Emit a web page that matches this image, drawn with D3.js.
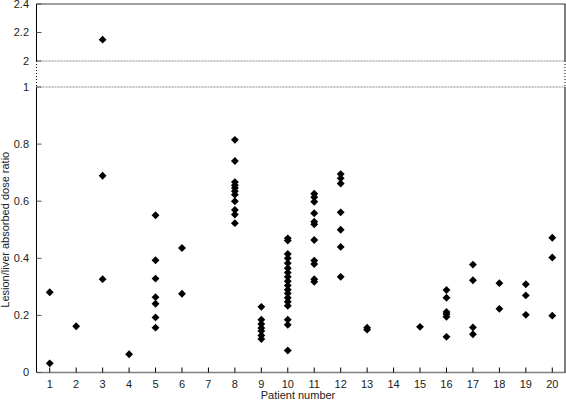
<!DOCTYPE html>
<html>
<head>
<meta charset="utf-8">
<script src="https://cdn.jsdelivr.net/npm/d3@7"></script>
<style>
  body { margin: 0; background: #fff; }
  text { font-family: "Liberation Sans", Arial, sans-serif; font-size: 11px; fill: #222; }
</style>
</head>
<body>
<div id="plot"></div>
<script>
// patients on the x axis
var patients = d3.range(1, 21);

// lesion/liver absorbed dose ratio, one array per patient
var p1 = [0.281, 0.032],
    p2 = [0.162],
    p3 = [2.15, 0.689, 0.327],
    p4 = [0.064],
    p5 = [0.551, 0.393, 0.329, 0.264, 0.241, 0.193, 0.157],
    p6 = [0.436, 0.276],
    p8 = [0.815, 0.741, 0.667, 0.656, 0.646, 0.635, 0.623, 0.6, 0.569, 0.553, 0.523],
    p9 = [0.23, 0.185, 0.17, 0.156, 0.145, 0.13, 0.117],
    p10 = [0.47, 0.462, 0.415, 0.4, 0.383, 0.365, 0.35, 0.335, 0.32, 0.305, 0.29,
           0.277, 0.262, 0.248, 0.234, 0.185, 0.167, 0.077],
    p11 = [0.626, 0.614, 0.598, 0.558, 0.528, 0.519, 0.464, 0.392, 0.38, 0.327, 0.318],
    p12 = [0.695, 0.68, 0.662, 0.561, 0.5, 0.44, 0.335],
    p13 = [0.157, 0.15],
    p15 = [0.16],
    p16 = [0.289, 0.262, 0.212, 0.204, 0.195, 0.125],
    p17 = [0.378, 0.323, 0.158, 0.134],
    p18 = [0.313, 0.223],
    p19 = [0.309, 0.27, 0.202],
    p20 = [0.472, 0.403, 0.199];

var byPatient = {1: p1, 2: p2, 3: p3, 4: p4, 5: p5, 6: p6, 8: p8, 9: p9, 10: p10,
                 11: p11, 12: p12, 13: p13, 15: p15, 16: p16, 17: p17, 18: p18,
                 19: p19, 20: p20};

// tick labels of the broken y axis
var lowTicks = [0, 0.2, 0.4, 0.6, 0.8, 1],
    highTicks = [2, 2.2, 2.4];

var width = 566, height = 401;
var left = 36.5, right = 565.5;

var svg = d3.select("#plot").append("svg")
    .attr("width", width)
    .attr("height", height);

var x = d3.scaleLinear().domain([0.5, 20.5]).range([left, right]);
var yLow = d3.scaleLinear().domain([0, 1]).range([372.5, 87]);
var yHigh = d3.scaleLinear().domain([2, 2.4]).range([61, 4]);
function y(v) { return v >= 2 ? yHigh(v) : yLow(v); }

var points = [];
patients.forEach(function(p) {
  (byPatient[p] || []).forEach(function(v) { points.push({p: p, v: v}); });
});

// dotted break lines at 1 and 2
svg.selectAll("line.brk")
    .data([yLow(1), yHigh(2)])
  .enter().append("line")
    .attr("x1", left).attr("x2", right)
    .attr("y1", function(d) { return d; }).attr("y2", function(d) { return d; })
    .style("stroke", "#888")
    .style("stroke-width", 1.2)
    .style("stroke-dasharray", "2,1");

// frame: gray top and bottom, black sides broken between 1 and 2
svg.append("line")
    .attr("x1", left).attr("x2", right)
    .attr("y1", yHigh(2.4)).attr("y2", yHigh(2.4))
    .style("stroke", "#808080").style("stroke-width", 1.5);
svg.append("line")
    .attr("x1", left).attr("x2", right)
    .attr("y1", yLow(0)).attr("y2", yLow(0))
    .style("stroke", "#808080").style("stroke-width", 1.5);
[left, right - 0.5].forEach(function(sx) {
  svg.append("line")
      .attr("x1", sx).attr("x2", sx)
      .attr("y1", yHigh(2.4)).attr("y2", yHigh(2))
      .style("stroke", "#000").style("stroke-width", 1);
  svg.append("line")
      .attr("x1", sx).attr("x2", sx)
      .attr("y1", yLow(1)).attr("y2", yLow(0))
      .style("stroke", "#000").style("stroke-width", 1);
  svg.append("line")
      .attr("x1", sx).attr("x2", sx)
      .attr("y1", yHigh(2)).attr("y2", yLow(1))
      .style("stroke", "#000").style("stroke-width", 1)
      .style("stroke-dasharray", "1,2");
});

// y ticks and labels
var yt = svg.selectAll("g.ytick")
    .data(lowTicks.map(function(v) { return {v: v, py: yLow(v)}; })
      .concat(highTicks.map(function(v) { return {v: v, py: yHigh(v)}; })))
  .enter().append("g")
    .attr("transform", function(d) { return "translate(0," + d.py + ")"; });
yt.append("line")
    .attr("x1", left).attr("x2", left + 5)
    .style("stroke", "#555").style("stroke-width", 1);
yt.append("text")
    .attr("x", 29)
    .attr("dy", "0.35em")
    .attr("text-anchor", "end")
    .text(function(d) { return d3.format("~g")(d.v); });

// x ticks and labels
var xt = svg.selectAll("g.xtick")
    .data(patients)
  .enter().append("g")
    .attr("transform", function(d) { return "translate(" + x(d) + ",0)"; });
xt.append("line")
    .attr("y1", yLow(0)).attr("y2", yLow(0) - 5)
    .style("stroke", "#000").style("stroke-width", 1);
xt.append("text")
    .attr("y", 388)
    .attr("text-anchor", "middle")
    .text(function(d) { return d; });

svg.append("text")
    .attr("x", 298).attr("y", 399)
    .attr("text-anchor", "middle")
    .text("Patient number");

svg.append("text")
    .attr("transform", "translate(9," + yLow(0.5) + ") rotate(-90)")
    .attr("text-anchor", "middle")
    .text("Lesion/liver absorbed dose ratio");

// diamonds
svg.selectAll("path.pt")
    .data(points)
  .enter().append("path")
    .attr("d", d3.symbol().type(d3.symbolSquare).size(31))
    .attr("transform", function(d) {
      return "translate(" + x(d.p) + "," + y(d.v) + ") rotate(45)";
    })
    .style("fill", "#000");
</script>
</body>
</html>
